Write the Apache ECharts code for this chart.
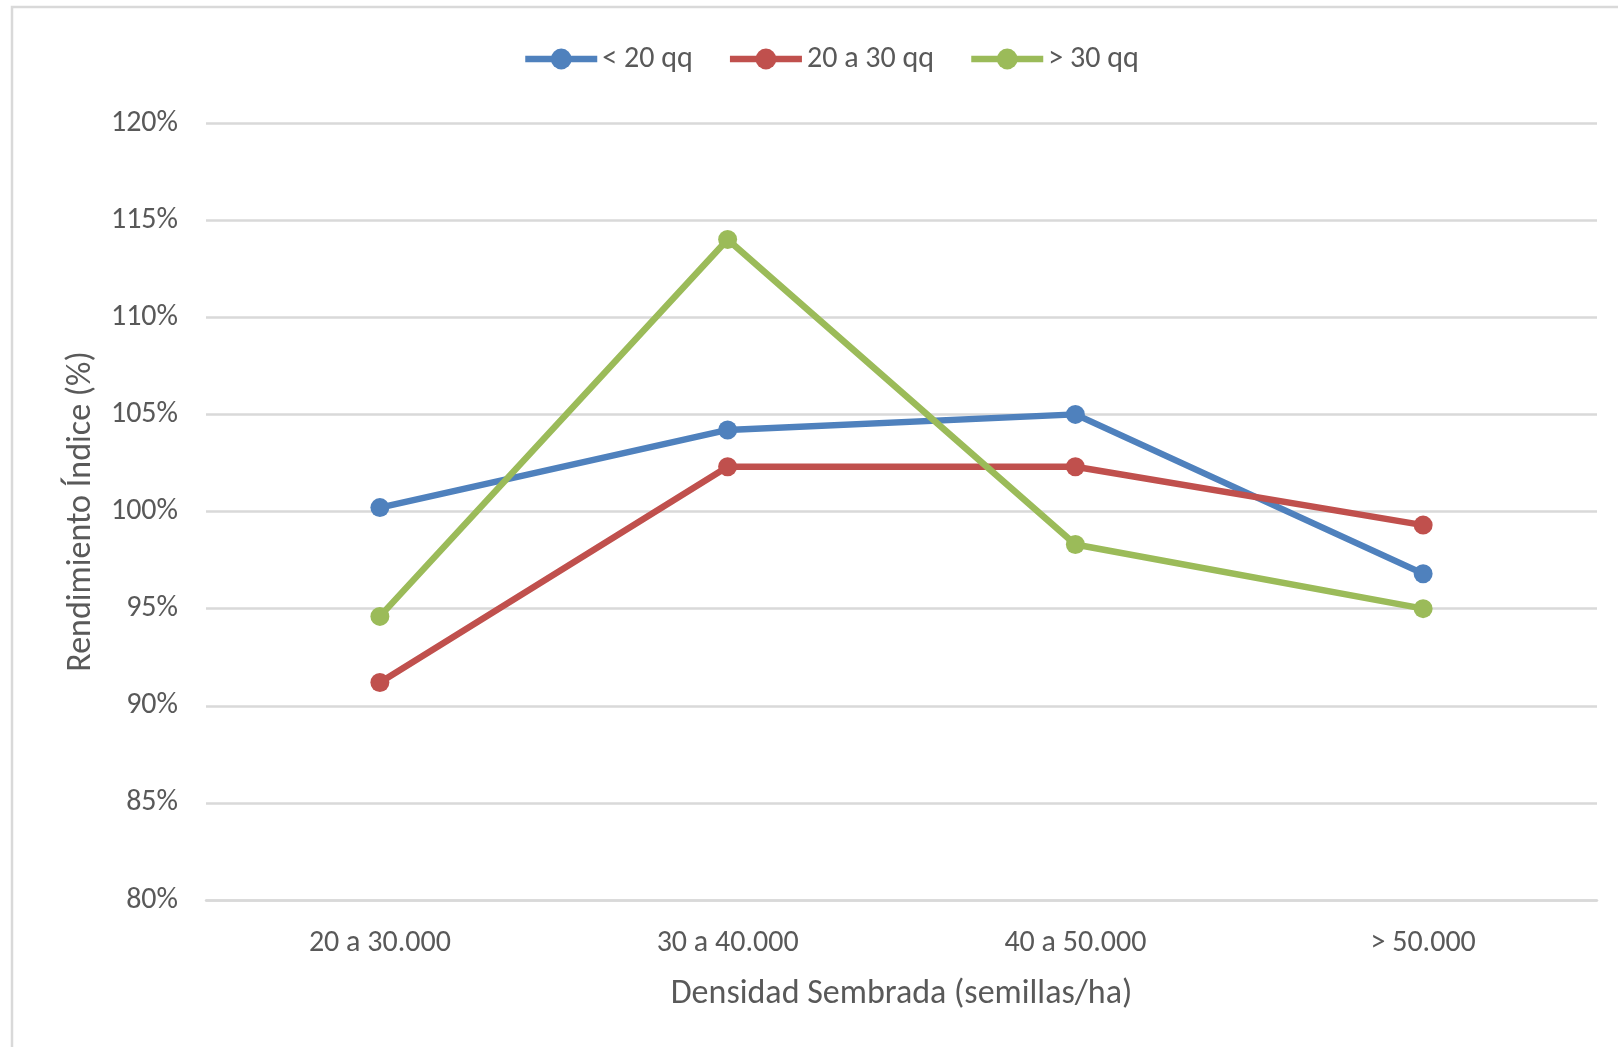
<!DOCTYPE html>
<html>
<head>
<meta charset="utf-8">
<script src="https://cdn.jsdelivr.net/npm/echarts@6/dist/echarts.min.js"></script>
<style>
html,body{margin:0;padding:0;background:#fff;}
#chart{width:1618px;height:1047px;}
</style>
</head>
<body>
<div id="chart"></div>
<script>
const categories = ['20 a 30.000', '30 a 40.000', '40 a 50.000', '> 50.000'];
const seriesNames = ['< 20 qq', '20 a 30 qq', '> 30 qq'];
const lowYield = [100.2, 104.2, 105.0, 96.8];
const midYield = [91.2, 102.3, 102.3, 99.3];
const highYield = [94.6, 114.0, 98.3, 95.0];
const yTicks = [80, 85, 90, 95, 100, 105, 110, 115, 120];

const colors = ['#4F81BD', '#C0504D', '#9BBB59'];
const FONT = 'Carlito, "Open Sans", sans-serif';
const TXT = '#595959';

const chart = echarts.init(document.getElementById('chart'), null, {renderer: 'canvas'});

function mkSeries(name, data, color) {
  return {
    name: name,
    type: 'line',
    data: data,
    symbol: 'circle',
    symbolSize: 19,
    lineStyle: {width: 6.5, color: color},
    itemStyle: {color: color},
    emphasis: {disabled: true}
  };
}

chart.setOption({
  animation: false,
  backgroundColor: '#fff',
  graphic: [{
    type: 'rect',
    z: -10,
    shape: {x: 12, y: 7, width: 1700, height: 1100},
    style: {fill: 'none', stroke: '#d9d9d9', lineWidth: 2.5}
  }],
  legend: {
    top: 39,
    left: 517,
    itemWidth: 72,
    itemHeight: 26,
    itemGap: 34,
    lineStyle: {width: 6.5},
    textStyle: {fontFamily: FONT, fontSize: 30, color: TXT},
    data: seriesNames
  },
  grid: {left: 206, right: 21, top: 123, bottom: 147, containLabel: false},
  xAxis: {
    type: 'category',
    data: categories,
    boundaryGap: true,
    axisLine: {show: true, lineStyle: {color: '#d9d9d9', width: 2.5}},
    axisTick: {show: false},
    axisLabel: {fontFamily: FONT, fontSize: 30, color: TXT, margin: 28},
    name: 'Densidad Sembrada (semillas/ha)',
    nameLocation: 'middle',
    nameGap: 77,
    nameTextStyle: {fontFamily: FONT, fontSize: 34, color: TXT}
  },
  yAxis: {
    type: 'value',
    min: yTicks[0],
    max: yTicks[yTicks.length - 1],
    interval: 5,
    axisLine: {show: false},
    axisTick: {show: false},
    splitLine: {lineStyle: {color: '#d9d9d9', width: 2.5}},
    axisLabel: {fontFamily: FONT, fontSize: 30, color: TXT, margin: 28, formatter: v => v + '%'},
    name: 'Rendimiento Índice (%)',
    nameLocation: 'middle',
    nameGap: 108,
    nameTextStyle: {fontFamily: FONT, fontSize: 34, color: TXT}
  },
  series: [
    mkSeries(seriesNames[0], lowYield, colors[0]),
    mkSeries(seriesNames[1], midYield, colors[1]),
    mkSeries(seriesNames[2], highYield, colors[2])
  ]
});
</script>
</body>
</html>
